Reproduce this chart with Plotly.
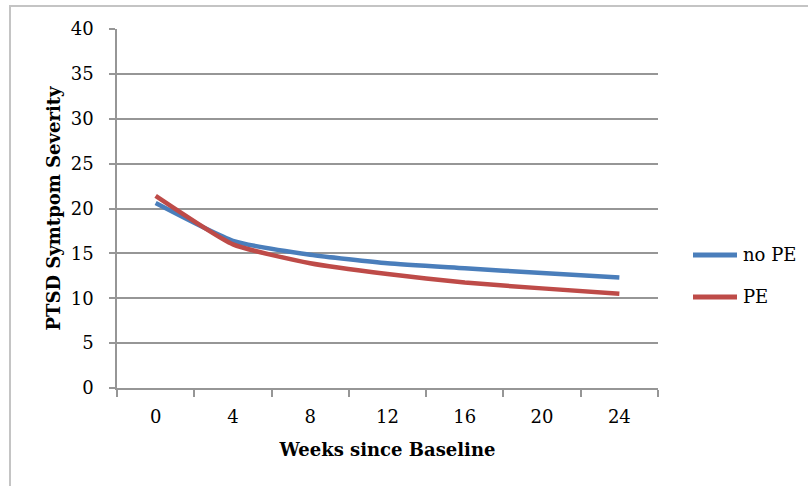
import plotly.graph_objects as go

# Weeks since baseline (category axis) and mean symptom severity per group
weeks = ["0", "4", "8", "12", "16", "20", "24"]
no_pe = [20.6, 16.4, 14.85, 13.9, 13.35, 12.8, 12.3]
pe = [21.4, 16.0, 13.9, 12.7, 11.75, 11.1, 10.5]
series_names = ["no PE", "PE"]
series_colors = ["#4a7ebb", "#be4b48"]
y_ticks = [0, 5, 10, 15, 20, 25, 30, 35, 40]

FONT = "DejaVu Serif"
GRID = "#969696"

fig = go.Figure()
for name, vals, col in zip(series_names, [no_pe, pe], series_colors):
    fig.add_trace(go.Scatter(
        x=weeks, y=vals, mode="lines", name=name,
        line=dict(color=col, width=4.5, shape="spline", smoothing=0.5),
        showlegend=False,
    ))

fig.update_layout(
    width=808, height=486,
    margin=dict(l=117, r=150, t=29, b=98),
    paper_bgcolor="white", plot_bgcolor="white",
    font=dict(family=FONT, size=18, color="black"),
    xaxis=dict(
        type="category", range=[-0.5, 6.5],
        tickson="boundaries", ticks="outside", ticklen=7, tickwidth=1.5,
        tickcolor=GRID, showgrid=False,
        showline=True, linecolor=GRID, linewidth=1.5,
        ticklabelstandoff=12,
        title=dict(text="<b>Weeks since Baseline</b>", standoff=17,
                   font=dict(family=FONT, size=18)),
    ),
    yaxis=dict(
        range=[0, 40], tickvals=y_ticks,
        ticks="outside", ticklen=6, tickwidth=1.5, tickcolor=GRID,
        showgrid=True, gridcolor=GRID, gridwidth=1.5,
        showline=True, linecolor=GRID, linewidth=1.5,
        zeroline=False, ticklabelstandoff=12,
        title=dict(text="<b>PTSD Symtpom Severity</b>", standoff=5,
                   font=dict(family=FONT, size=18)),
    ),
)

# Outer frame of the chart area
fig.add_shape(type="rect", xref="paper", yref="paper",
              x0=(10 - 117) / 541, x1=(812 - 117) / 541,
              y0=(388 - 490) / 359, y1=(388 - 6) / 359,
              line=dict(color="#c4c4c4", width=2), fillcolor="rgba(0,0,0,0)",
              layer="below")

# Legend drawn at the right of the plot area
legend_y = [0.3705, 0.2535]
for name, col, ly in zip(series_names, series_colors, legend_y):
    fig.add_shape(type="line", xref="paper", yref="paper",
                  x0=(693 - 117) / 541, x1=(737 - 117) / 541, y0=ly, y1=ly,
                  line=dict(color=col, width=5))
    fig.add_annotation(xref="paper", yref="paper", x=(741 - 117) / 541, y=ly,
                       text=name, showarrow=False, xanchor="left", yanchor="middle",
                       font=dict(family=FONT, size=18, color="black"))

fig.write_html("out.html")
